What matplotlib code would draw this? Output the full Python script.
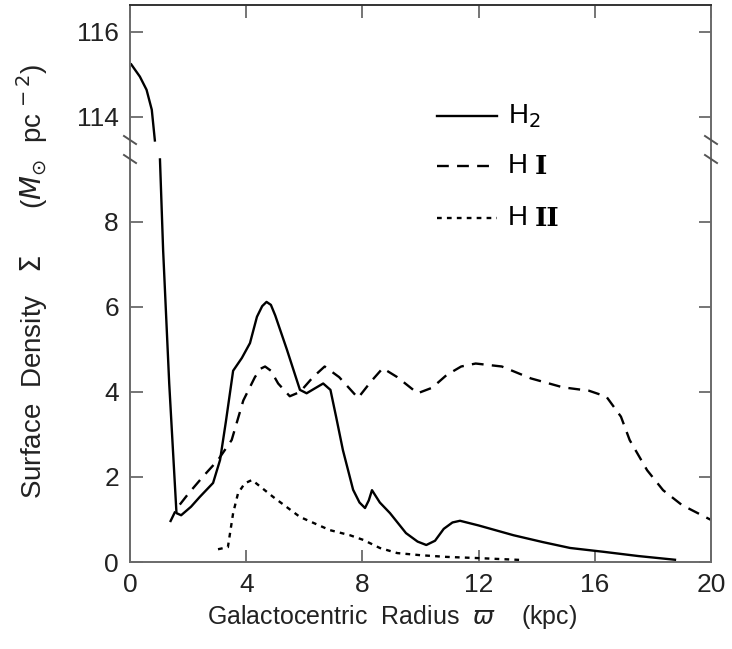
import numpy as np
import matplotlib
matplotlib.use('Agg')
import matplotlib.pyplot as plt
from matplotlib.lines import Line2D

plt.rcParams['font.family'] = ['Liberation Sans', 'DejaVu Sans']
plt.rcParams['mathtext.fontset'] = 'dejavusans'

# H2, core part (upper panel)
h2_core_r = [0.02, 0.34, 0.57, 0.75, 0.86]
h2_core_s = [115.26, 114.95, 114.64, 114.17, 113.42]

# H2, disk part (lower panel)
h2_r = [1.03, 1.14, 1.35, 1.6, 1.76, 2.1, 2.4, 2.86, 3.1, 3.3, 3.55, 3.85, 4.13, 4.37, 4.55,
        4.7, 4.85, 5.0, 5.4, 5.85, 6.08, 6.4, 6.65, 6.9, 7.1, 7.33, 7.68, 7.9, 8.09,
        8.22, 8.33, 8.6, 8.95, 9.5, 9.9, 10.2, 10.5, 10.8, 11.1, 11.36, 12.0, 13.2,
        14.2, 15.15, 16.3, 17.5, 18.8]
h2_s = [9.5, 7.34, 4.2, 1.15, 1.1, 1.3, 1.53, 1.86, 2.4, 3.3, 4.5, 4.8, 5.15, 5.77, 6.02,
        6.12, 6.05, 5.8, 5.0, 4.05, 3.97, 4.1, 4.2, 4.05, 3.4, 2.63, 1.7, 1.4, 1.27,
        1.45, 1.69, 1.4, 1.15, 0.68, 0.48, 0.4, 0.5, 0.78, 0.93, 0.97, 0.86, 0.63,
        0.47, 0.33, 0.24, 0.14, 0.05]

hi_r = [1.38, 1.6, 2.0, 2.5, 3.03, 3.5, 3.9, 4.3, 4.5, 4.65, 4.85, 5.1, 5.5, 5.85,
        6.3, 6.7, 7.2, 7.85, 8.3, 8.7, 9.2, 9.9, 10.4, 10.9, 11.4, 11.9, 12.8, 13.8,
        14.9, 15.8, 16.4, 16.9, 17.2, 17.8, 18.35, 19.0, 20.0]
hi_s = [0.94, 1.25, 1.6, 2.0, 2.4, 2.87, 3.8, 4.35, 4.55, 4.6, 4.5, 4.2, 3.9, 4.0,
        4.35, 4.6, 4.35, 3.86, 4.25, 4.56, 4.35, 3.97, 4.1, 4.4, 4.6, 4.67, 4.6, 4.32,
        4.11, 4.03, 3.89, 3.42, 2.87, 2.16, 1.69, 1.34, 0.99]

hii_r = [3.03, 3.37, 3.55, 3.72, 3.95, 4.2, 4.93, 5.85, 6.88, 7.57, 8.03, 8.6,
         9.2, 10.0, 10.9, 12.05, 13.4]
hii_s = [0.3, 0.35, 1.15, 1.62, 1.85, 1.93, 1.53, 1.06, 0.75, 0.63, 0.52, 0.33,
         0.21, 0.16, 0.12, 0.09, 0.05]

x_ticks = [0, 4, 8, 12, 16, 20]
low_ticks = [0, 2, 4, 6, 8]
high_ticks = [114, 116]

W, H = 732, 649
fig = plt.figure(figsize=(W / 100, H / 100), dpi=100)

left, right = 130 / W, 711 / W
y_top, y_brk, y_bot = 5, 150, 562
ax_hi = fig.add_axes([left, 1 - y_brk / H, right - left, (y_brk - y_top) / H])
ax_lo = fig.add_axes([left, 1 - y_bot / H, right - left, (y_bot - y_brk) / H])

px = 42.5  # pixels per unit on both panels
ax_hi.set_ylim(114 - (y_brk - 117) / px, 116 + (32 - y_top) / px)
ax_lo.set_ylim(0, (y_bot - y_brk) / px)

spine_c = '#6a6a6a'
lw = 1.7
ax_hi.plot(h2_core_r, h2_core_s, color='black', lw=lw, solid_capstyle='butt')
ax_lo.plot(h2_r, h2_s, color='black', lw=lw, solid_capstyle='butt', solid_joinstyle='round')
ax_lo.plot(hi_r, hi_s, color='black', lw=lw, dashes=(5, 3.5))
ax_lo.plot(hii_r, hii_s, color='black', lw=lw, dashes=(2, 2.2))

for ax in (ax_hi, ax_lo):
    ax.set_xlim(0, 20)
    ax.set_xticks(x_ticks)
    for s in ax.spines.values():
        s.set_color(spine_c)
        s.set_linewidth(1.4)
    ax.tick_params(direction='in', length=9, width=1.3, color=spine_c,
                   labelsize=19, labelcolor='#222', top=True, right=True, pad=8)

ax_hi.spines['bottom'].set_visible(False)
ax_hi.spines['top'].set_color('#333')
ax_lo.spines['top'].set_visible(False)
ax_hi.set_yticks(high_ticks)
ax_hi.tick_params(axis='x', bottom=False, labelbottom=False)
ax_lo.tick_params(axis='x', top=False)
ax_lo.set_yticks(low_ticks)

# break marks on both sides of the y axis
for xb in (130, 711):
    for yb in (140, 159):
        fig.add_artist(Line2D([(xb - 6) / W, (xb + 6) / W], [1 - (yb - 4) / H, 1 - (yb + 4) / H],
                              color='#555', lw=1.4))

# legend drawn by hand
leg = [(116, 'solid', '2', None), (166, (5, 3.5), None, 'I'), (218, (2, 2.2), None, 'II')]
for yl, ls, sub, roman in leg:
    kw = {} if ls == 'solid' else {'dashes': ls}
    fig.add_artist(Line2D([437 / W, 497 / W], [1 - yl / H, 1 - yl / H], color='black', lw=lw, **kw))
    if sub:
        fig.text(508 / W, 1 - yl / H, r'H$_2$', fontsize=20, va='center', ha='left')
    else:
        fig.text(508 / W, 1 - yl / H, 'H', fontsize=20, va='center', ha='left')
        fig.text(535 / W, 1 - yl / H, roman, fontsize=19, va='center', ha='left',
                 family='DejaVu Serif', weight='bold')

fig.text(392 / W, 1 - 617 / H, r'Galactocentric  Radius  $\varpi$    (kpc)',
         fontsize=18, ha='center', va='center', color='#222')
fig.text(32 / W, 1 - 281 / H, r'Surface  Density   $\Sigma$      ($M_{\odot}$  pc$^{\,-2}$)',
         fontsize=20, ha='center', va='center', rotation=90, color='#222')

fig.savefig('out.png', dpi=100)
